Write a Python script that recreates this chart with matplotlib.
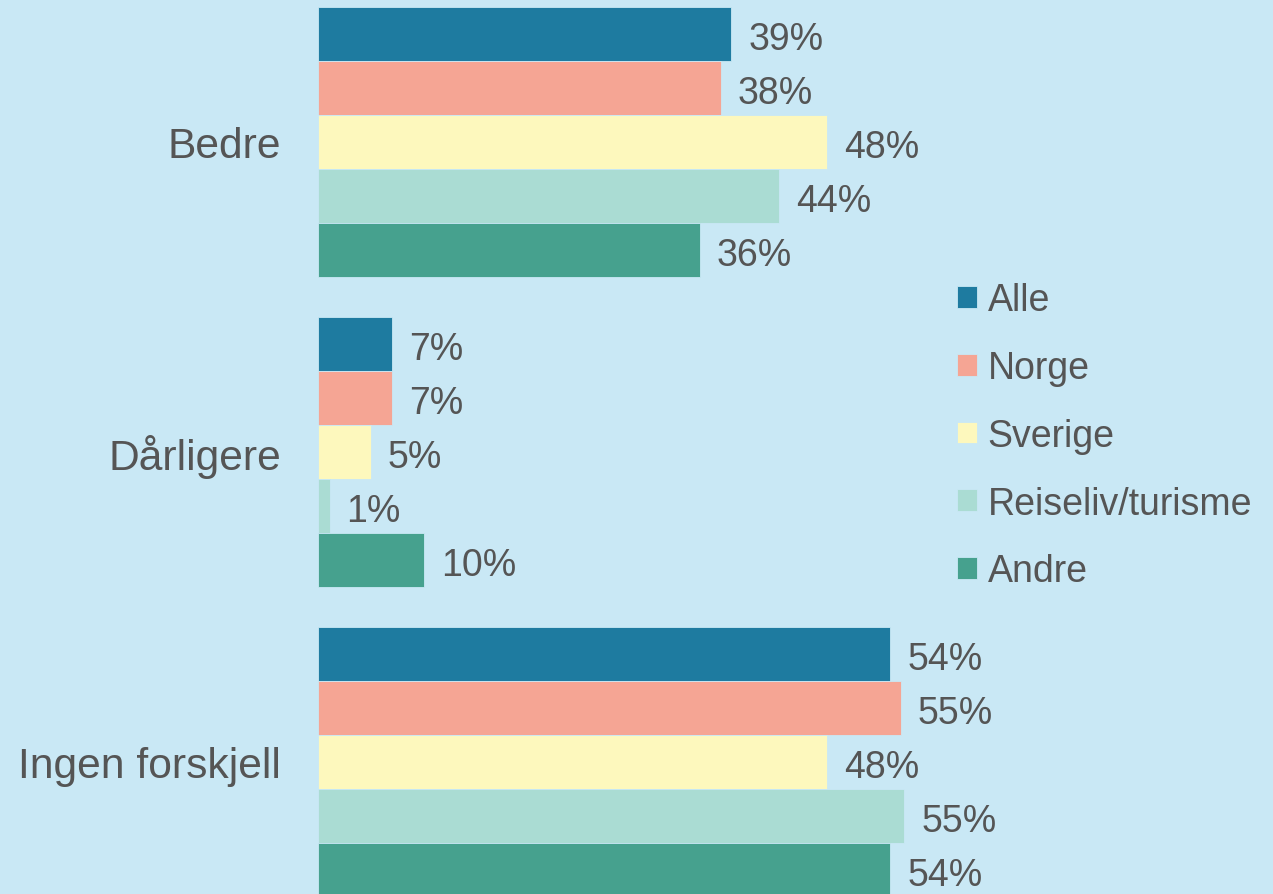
import matplotlib.pyplot as plt
import numpy as np

plt.rcParams['font.family'] = ['Liberation Sans', 'DejaVu Sans']

categories = ['Bedre', 'Dårligere', 'Ingen forskjell']
series = ['Alle', 'Norge', 'Sverige', 'Reiseliv/turisme', 'Andre']
values = {
    'Alle': [39, 7, 54],
    'Norge': [38, 7, 55],
    'Sverige': [48, 5, 48],
    'Reiseliv/turisme': [43.5, 1.1, 55.3],
    'Andre': [36, 10, 54],
}
colors = ['#1E7BA0', '#F5A594', '#FDF8BD', '#AADCD3', '#46A18E']

bg = '#C9E8F5'
txt = '#555555'

fig = plt.figure(figsize=(12.73, 8.95), dpi=100, facecolor=bg)
ax = fig.add_axes([318 / 1273, 0, 1 - 318 / 1273, 1])
ax.set_facecolor(bg)

group_pitch = 310 / 54
for j, s in enumerate(series):
    y = np.arange(len(categories)) * group_pitch + j + 0.5
    ax.barh(y, values[s], height=1.0, color=colors[j], label=s,
            edgecolor=bg, linewidth=0.6)
    for yy, v in zip(y, values[s]):
        ax.text(v + 1.6, yy + 0.09, f'{round(v)}%', va='center', ha='left',
                fontsize=27, color=txt)

ax.set_xlim(0, 955 / 10.6)
ax.set_ylim((895 - 8) / 54, -8 / 54)

for i, c in enumerate(categories):
    ax.text(-3.5, i * group_pitch + 2.58, c, ha='right', va='center',
            fontsize=30.7, color=txt, clip_on=False)

for sp in ax.spines.values():
    sp.set_visible(False)
ax.set_xticks([])
ax.set_yticks([])

leg = ax.legend(loc='upper left', bbox_to_anchor=(957 / 1273, 1 - 283 / 895),
                bbox_transform=fig.transFigure, frameon=False, fontsize=27,
                handlelength=0.52, handleheight=0.52, handletextpad=0.3,
                labelspacing=0.85, borderpad=0, borderaxespad=0)
for t in leg.get_texts():
    t.set_color(txt)

fig.savefig('out.png', dpi=100, facecolor=bg)
